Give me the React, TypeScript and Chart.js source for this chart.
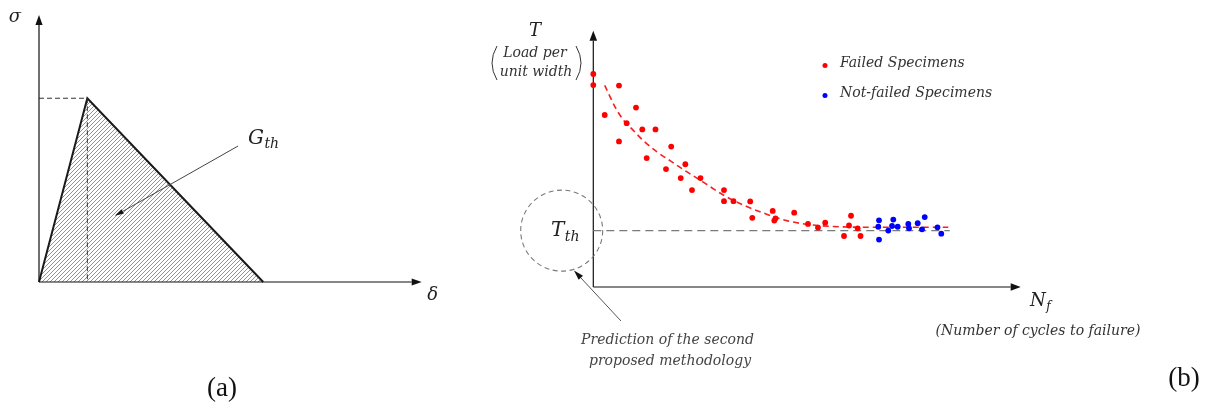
import { useEffect, useRef } from "react";
import { Chart, registerables } from "chart.js";

Chart.register(...registerables);

// ---------- Panel (a): triangular traction–separation law ----------
const separation = [0, 1.0, 4.64]; // δ (normalised by δ at peak)
const traction = [0, 1.0, 0]; // σ (normalised by peak traction)
const SEP_AXIS_MAX = 7.92;
const TRACTION_AXIS_MAX = 1.453;
// G_th label and pointer, in (δ, σ) units
const G_LABEL_AT = { x: 4.64, y: 0.79 };
const G_POINTER_FROM = { x: 4.12, y: 0.74 };
const G_POINTER_TO = { x: 1.57, y: 0.36 };

// ---------- Panel (b): load per unit width vs. cycles to failure ----------
const failedCycles = [
  0, 0, 2.67, 6.01, 6.01, 9.99, 7.81, 11.46, 14.55, 18.23, 12.49, 17.01, 21.53, 20.45, 25.08,
  23.09, 30.58, 30.58, 32.8, 36.71, 37.2, 41.98, 42.63, 42.35, 47.0, 50.23, 52.57, 54.26, 58.66,
  59.83, 60.3, 61.86, 62.52,
];
const failedLoad = [
  83.1, 78.8, 67.1, 78.6, 56.8, 70.0, 63.9, 61.5, 61.5, 54.8, 50.3, 46.0, 47.9, 42.5, 42.5, 37.8,
  37.8, 33.5, 33.5, 33.4, 27.0, 29.7, 26.8, 25.9, 29.0, 24.6, 23.2, 25.1, 19.9, 24.0, 27.8, 22.9,
  19.9,
];
const runoutCycles = [
  66.85, 66.68, 66.85, 69.02, 70.19, 69.89, 71.22, 73.7, 73.87, 75.9, 76.91, 77.54, 80.53, 81.42,
];
const runoutLoad = [26.0, 23.5, 18.5, 22.0, 26.3, 23.8, 23.5, 24.6, 22.9, 24.9, 22.5, 27.3, 23.3, 20.8];
const fitCycles = [
  2.67, 5.08, 7.02, 9.36, 11.7, 14.83, 17.95, 21.85, 25.74, 30.42, 35.1, 40.41, 45.25, 50.7, 57.72,
  66.31, 83.06,
];
const fitLoad = [
  78.7, 70.3, 65.2, 61.1, 57.1, 52.8, 49.3, 45.0, 40.9, 35.9, 32.0, 28.5, 25.9, 24.3, 23.5, 23.3,
  23.3,
];
const THRESHOLD_LOAD = 22.0;
const THRESHOLD_END_CYCLES = 83.4;
const CYCLES_AXIS_MAX = 100;
const LOAD_AXIS_MAX = 100;

const SERIF = '"DejaVu Serif", "Liberation Serif", serif';
const ROMAN = '"Liberation Serif", "DejaVu Serif", serif';

const pts = (xs: number[], ys: number[]) => xs.map((x, i) => ({ x, y: ys[i] }));

function arrow(
  ctx: CanvasRenderingContext2D,
  x1: number,
  y1: number,
  x2: number,
  y2: number,
  len: number,
  half: number,
  lineColor: string,
  headColor: string,
  width: number
) {
  const a = Math.atan2(y2 - y1, x2 - x1);
  const bx = x2 - len * Math.cos(a);
  const by = y2 - len * Math.sin(a);
  ctx.save();
  ctx.setLineDash([]);
  ctx.strokeStyle = lineColor;
  ctx.lineWidth = width;
  ctx.beginPath();
  ctx.moveTo(x1, y1);
  ctx.lineTo(bx, by);
  ctx.stroke();
  ctx.fillStyle = headColor;
  ctx.beginPath();
  ctx.moveTo(x2, y2);
  ctx.lineTo(bx + half * Math.sin(a), by - half * Math.cos(a));
  ctx.lineTo(bx - half * Math.sin(a), by + half * Math.cos(a));
  ctx.closePath();
  ctx.fill();
  ctx.restore();
}

function subLabel(
  ctx: CanvasRenderingContext2D,
  main: string,
  sub: string,
  cx: number,
  cy: number,
  size: number,
  subSize: number,
  color: string
) {
  const mainFont = `italic ${size}px ${SERIF}`;
  const subFont = `italic ${subSize}px ${SERIF}`;
  ctx.save();
  ctx.font = mainFont;
  const w1 = ctx.measureText(main).width;
  ctx.font = subFont;
  const w2 = ctx.measureText(sub).width;
  const x0 = cx - (w1 + w2) / 2;
  const base = cy + size * 0.36;
  ctx.fillStyle = color;
  ctx.textAlign = "left";
  ctx.textBaseline = "alphabetic";
  ctx.font = mainFont;
  ctx.fillText(main, x0, base);
  ctx.font = subFont;
  ctx.fillText(sub, x0 + w1 + 0.5, base + size * 0.22);
  ctx.restore();
}

function text(
  ctx: CanvasRenderingContext2D,
  s: string,
  x: number,
  y: number,
  font: string,
  color: string,
  align: CanvasTextAlign = "center"
) {
  ctx.save();
  ctx.font = font;
  ctx.fillStyle = color;
  ctx.textAlign = align;
  ctx.textBaseline = "middle";
  ctx.fillText(s, x, y);
  ctx.restore();
}

function makeHatch(): CanvasPattern | string {
  const tile = document.createElement("canvas");
  tile.width = 4;
  tile.height = 4;
  const c = tile.getContext("2d");
  if (!c) return "#bbb";
  c.strokeStyle = "#707070";
  c.lineWidth = 0.75;
  c.beginPath();
  c.moveTo(-1, 5);
  c.lineTo(5, -1);
  c.moveTo(-1, 1);
  c.lineTo(1, -1);
  c.moveTo(3, 5);
  c.lineTo(5, 3);
  c.stroke();
  return c.createPattern(tile, "repeat") ?? "#bbb";
}

const panelA = {
  id: "panelA",
  afterDatasetsDraw(chart: any) {
    const { ctx, chartArea, scales } = chart;
    const { left, right, top, bottom } = chartArea;
    const sx = scales.x;
    const sy = scales.y;
    arrow(ctx, left, bottom, left, top, 10, 3.6, "#111", "#111", 1.2);
    arrow(ctx, left, bottom, right, bottom, 10, 3.6, "#111", "#111", 1.2);

    text(ctx, "σ", left - 24, top + 2, `italic 18px ${SERIF}`, "#222");
    text(ctx, "δ", right + 11, bottom + 13, `italic 18px ${SERIF}`, "#222");

    subLabel(
      ctx,
      "G",
      "th",
      sx.getPixelForValue(G_LABEL_AT.x),
      sy.getPixelForValue(G_LABEL_AT.y),
      20,
      14,
      "#222"
    );
    arrow(
      ctx,
      sx.getPixelForValue(G_POINTER_FROM.x),
      sy.getPixelForValue(G_POINTER_FROM.y),
      sx.getPixelForValue(G_POINTER_TO.x),
      sy.getPixelForValue(G_POINTER_TO.y),
      9,
      2.4,
      "#444",
      "#111",
      1
    );
    text(ctx, "(a)", 222, 389, `27px ${ROMAN}`, "#111");
  },
};

const panelB = {
  id: "panelB",
  beforeDatasetsDraw(chart: any) {
    const { ctx, chartArea } = chart;
    const { left, right, top, bottom } = chartArea;
    arrow(ctx, left, bottom, left, top, 10, 3.8, "#111", "#111", 1.2);
    arrow(ctx, left, bottom, right, bottom, 10, 3.8, "#111", "#111", 1.2);
  },
  afterDatasetsDraw(chart: any) {
    const { ctx, chartArea, scales } = chart;
    const { left } = chartArea;
    const thrY = scales.y.getPixelForValue(THRESHOLD_LOAD);

    // ordinate title: T (Load per unit width)
    text(ctx, "T", 65, 31, `italic 18px ${SERIF}`, "#222");
    text(ctx, "Load per", 65, 53.5, `italic 14px ${SERIF}`, "#333");
    text(ctx, "unit width", 66, 72, `italic 14px ${SERIF}`, "#333");
    ctx.save();
    ctx.strokeStyle = "#333";
    ctx.lineWidth = 1;
    ctx.beginPath();
    ctx.moveTo(27, 46);
    ctx.quadraticCurveTo(17, 63, 27, 80);
    ctx.moveTo(106, 46);
    ctx.quadraticCurveTo(116, 63, 106, 80);
    ctx.stroke();
    ctx.restore();

    // abscissa title: N_f (Number of cycles to failure)
    subLabel(ctx, "N", "f", 570, 300, 18, 12, "#222");
    text(ctx, "(Number of cycles to failure)", 568, 331, `italic 14px ${SERIF}`, "#333");

    // threshold marker
    ctx.save();
    ctx.strokeStyle = "#7a7a7a";
    ctx.lineWidth = 1.1;
    ctx.setLineDash([5, 3.5]);
    ctx.beginPath();
    ctx.ellipse(left - 31.6, thrY, 41, 40.5, 0, 0, Math.PI * 2);
    ctx.stroke();
    ctx.restore();
    subLabel(ctx, "T", "th", 95, thrY - 1.5, 20, 14, "#222");

    arrow(ctx, 151, 321, 104, 270.5, 10, 3, "#555", "#111", 1);
    text(ctx, "Prediction of the second", 197.5, 340.5, `italic 14px ${SERIF}`, "#444");
    text(ctx, "proposed methodology", 200, 361.5, `italic 14px ${SERIF}`, "#444");

    // legend
    const entries = chart.data.datasets.filter((d: any) => d.showInKey);
    entries.forEach((d: any, i: number) => {
      const rowY = 64.5 + i * 30;
      ctx.save();
      ctx.fillStyle = d.backgroundColor;
      ctx.beginPath();
      ctx.arc(355, rowY + 1, 2.5, 0, Math.PI * 2);
      ctx.fill();
      ctx.restore();
      text(ctx, d.label, 370, rowY - 1, `italic 14px ${SERIF}`, "#333", "left");
    });

    text(ctx, "(b)", 714, 379, `27px ${ROMAN}`, "#111");
  },
};

export default function App() {
  const refA = useRef<HTMLCanvasElement>(null);
  const refB = useRef<HTMLCanvasElement>(null);

  useEffect(() => {
    if (!refA.current || !refB.current) return;
    const peak = traction.indexOf(Math.max(...traction));
    const peakSep = separation[peak];
    const peakTraction = traction[peak];

    const chartA = new Chart(refA.current, {
      type: "line",
      data: {
        datasets: [
          {
            label: "traction-separation",
            data: pts(separation, traction),
            borderColor: "#1a1a1a",
            borderWidth: 2,
            backgroundColor: makeHatch() as any,
            fill: "origin",
            pointRadius: 0,
            tension: 0,
            clip: false as any,
            order: 2,
          },
          {
            label: "peak traction",
            data: [
              { x: 0, y: peakTraction },
              { x: peakSep, y: peakTraction },
            ],
            borderColor: "#333",
            borderWidth: 1,
            borderDash: [5, 3],
            fill: false,
            pointRadius: 0,
            clip: false as any,
            order: 1,
          },
          {
            label: "separation at peak",
            data: [
              { x: peakSep, y: peakTraction },
              { x: peakSep, y: 0 },
            ],
            borderColor: "#333",
            borderWidth: 1,
            borderDash: [5, 3],
            fill: false,
            pointRadius: 0,
            clip: false as any,
            order: 0,
          },
        ],
      },
      options: {
        animation: false,
        responsive: false,
        devicePixelRatio: 1,
        events: [],
        layout: { padding: { left: 39, top: 15, right: 48.3, bottom: 130 } },
        scales: {
          x: { type: "linear", display: false, min: 0, max: SEP_AXIS_MAX },
          y: { type: "linear", display: false, min: 0, max: TRACTION_AXIS_MAX },
        },
        plugins: { legend: { display: false }, tooltip: { enabled: false } },
      },
      plugins: [panelA],
    });

    const chartB = new Chart(refB.current, {
      type: "scatter",
      data: {
        datasets: [
          {
            label: "Failed Specimens",
            data: pts(failedCycles, failedLoad),
            backgroundColor: "#ff0000",
            borderWidth: 0,
            pointRadius: 2.9,
            clip: false as any,
            order: 0,
            showInKey: true,
          } as any,
          {
            label: "Not-failed Specimens",
            data: pts(runoutCycles, runoutLoad),
            backgroundColor: "#0000ff",
            borderWidth: 0,
            pointRadius: 2.9,
            clip: false as any,
            order: 1,
            showInKey: true,
          } as any,
          {
            label: "fit",
            data: pts(fitCycles, fitLoad),
            showLine: true,
            borderColor: "#f52020",
            borderWidth: 1.6,
            borderDash: [6, 4],
            pointRadius: 0,
            tension: 0.4,
            cubicInterpolationMode: "monotone",
            clip: false as any,
            order: 2,
          } as any,
          {
            label: "threshold",
            data: [
              { x: 0, y: THRESHOLD_LOAD },
              { x: THRESHOLD_END_CYCLES, y: THRESHOLD_LOAD },
            ],
            showLine: true,
            borderColor: "#7a7a7a",
            borderWidth: 1.3,
            borderDash: [8, 5],
            pointRadius: 0,
            clip: false as any,
            order: 3,
          } as any,
        ],
      },
      options: {
        animation: false,
        responsive: false,
        devicePixelRatio: 1,
        events: [],
        layout: { padding: { left: 123.3, top: 30.7, right: 186.3, bottom: 125 } },
        scales: {
          x: { type: "linear", display: false, min: 0, max: CYCLES_AXIS_MAX },
          y: { type: "linear", display: false, min: 0, max: LOAD_AXIS_MAX },
        },
        plugins: { legend: { display: false }, tooltip: { enabled: false } },
      },
      plugins: [panelB],
    });

    return () => {
      chartA.destroy();
      chartB.destroy();
    };
  }, []);

  return (
    <div
      style={{
        position: "fixed",
        left: 0,
        top: 0,
        width: 1207,
        height: 412,
        background: "#fff",
      }}
    >
      <canvas
        ref={refA}
        width={470}
        height={412}
        style={{ position: "absolute", left: 0, top: 0, width: 470, height: 412 }}
      />
      <canvas
        ref={refB}
        width={737}
        height={412}
        style={{ position: "absolute", left: 470, top: 0, width: 737, height: 412 }}
      />
    </div>
  );
}
